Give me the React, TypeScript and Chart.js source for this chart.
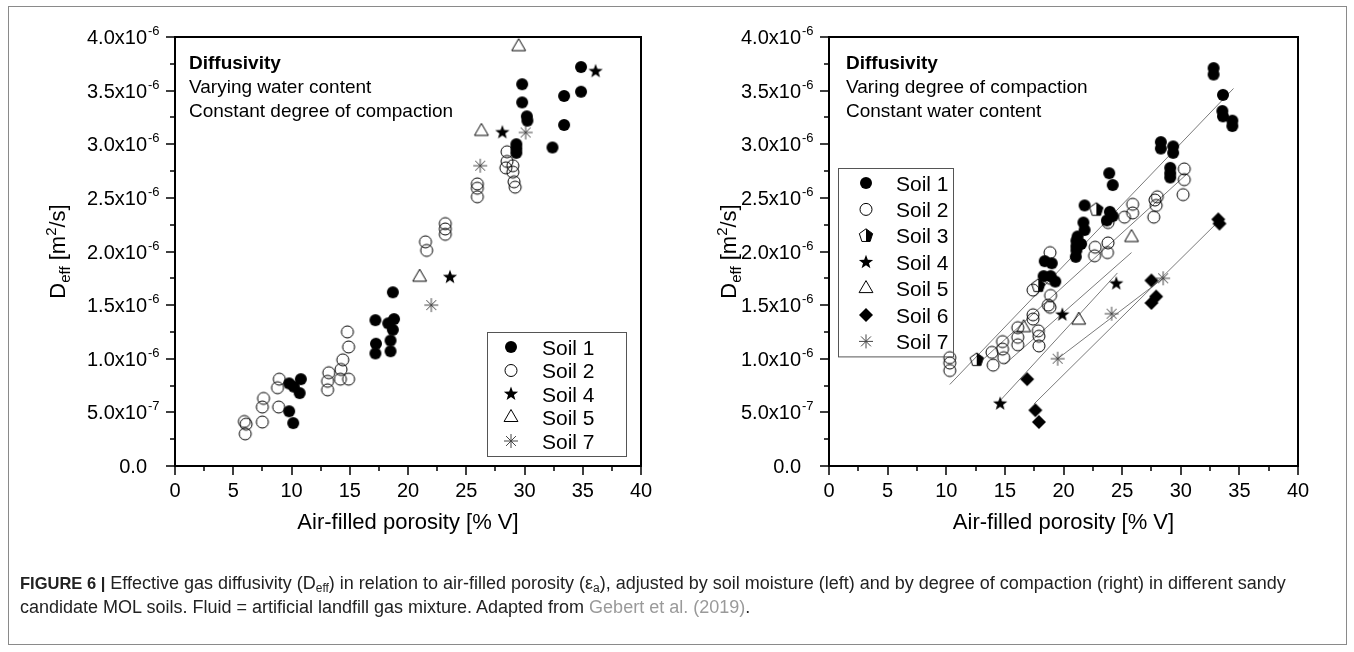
import React, { useEffect, useRef } from 'react';
import { Chart, registerables } from 'chart.js';

Chart.register(...registerables);

const FONT = "'Liberation Sans', Arial, Helvetica, sans-serif";

// ---------- axes (shared) ----------
const xTickValues = [0, 5, 10, 15, 20, 25, 30, 35, 40];
const xTickLabels = ['0', '5', '10', '15', '20', '25', '30', '35', '40'];
// y values are in units of 1e-6 m2/s
const yTickValues = [0, 0.5, 1.0, 1.5, 2.0, 2.5, 3.0, 3.5, 4.0];
const yTickMantissa = ['0.0', '5.0x10', '1.0x10', '1.5x10', '2.0x10', '2.5x10', '3.0x10', '3.5x10', '4.0x10'];
const yTickExponent = ['', '-7', '-6', '-6', '-6', '-6', '-6', '-6', '-6'];
const xAxisTitle = 'Air-filled porosity [% V]';

// ---------- left panel: varying water content ----------
const leftNotes = ['Diffusivity', 'Varying water content', 'Constant degree of compaction'];
const leftSoil1X = [9.8, 10.2, 10.8, 10.7, 9.8, 10.15, 17.2, 17.25, 17.2, 18.7, 18.3, 18.8, 18.7, 18.5, 18.5, 29.8, 29.8, 30.2, 30.25, 29.3, 29.3, 29.3, 32.4, 33.4, 33.4, 34.85, 34.85];
const leftSoil1Y = [0.77, 0.74, 0.81, 0.68, 0.51, 0.40, 1.36, 1.14, 1.05, 1.62, 1.33, 1.37, 1.27, 1.17, 1.07, 3.56, 3.39, 3.26, 3.22, 3.00, 2.96, 2.92, 2.97, 3.45, 3.18, 3.72, 3.49];
const leftSoil2X = [5.95, 6.1, 6.03, 7.5, 7.5, 7.6, 8.8, 8.95, 8.9, 13.1, 13.1, 13.2, 14.2, 14.25, 14.4, 14.9, 14.9, 14.8, 21.5, 21.6, 23.2, 23.2, 23.2, 25.95, 25.95, 25.95, 28.5, 28.5, 28.4, 29.0, 29.0, 29.1, 29.2];
const leftSoil2Y = [0.415, 0.39, 0.30, 0.41, 0.55, 0.63, 0.73, 0.81, 0.55, 0.71, 0.79, 0.87, 0.81, 0.90, 0.99, 0.81, 1.11, 1.25, 2.09, 2.01, 2.26, 2.21, 2.16, 2.63, 2.59, 2.51, 2.93, 2.84, 2.78, 2.80, 2.74, 2.65, 2.60];
const leftSoil4X = [23.6, 28.1, 36.1];
const leftSoil4Y = [1.76, 3.11, 3.68];
const leftSoil5X = [21.0, 26.3, 29.5];
const leftSoil5Y = [1.76, 3.12, 3.91];
const leftSoil7X = [22.0, 26.2, 30.1];
const leftSoil7Y = [1.50, 2.80, 3.11];

// ---------- right panel: varying degree of compaction ----------
const rightNotes = ['Diffusivity', 'Varing degree of compaction', 'Constant water content'];
const rightSoil1X = [28.3, 28.3, 29.35, 29.35, 29.1, 29.1, 29.1, 23.9, 24.2, 21.8, 23.95, 24.2, 23.7, 21.7, 21.8, 21.2, 21.1, 21.1, 21.1, 21.05, 21.5, 18.4, 19.0, 18.3, 18.9, 19.3, 32.8, 32.8, 33.6, 33.55, 33.6, 34.4, 34.4];
const rightSoil1Y = [3.02, 2.96, 2.98, 2.92, 2.78, 2.73, 2.69, 2.73, 2.62, 2.43, 2.37, 2.33, 2.29, 2.27, 2.20, 2.14, 2.10, 2.05, 2.01, 1.95, 2.07, 1.91, 1.89, 1.77, 1.77, 1.72, 3.71, 3.65, 3.46, 3.31, 3.26, 3.22, 3.17];
const rightSoil2X = [30.3, 30.3, 30.2, 28.0, 27.8, 27.9, 27.7, 25.9, 25.9, 25.2, 23.8, 23.8, 23.75, 22.7, 22.65, 18.85, 18.85, 17.4, 18.9, 18.7, 18.85, 17.4, 17.4, 17.85, 17.9, 17.9, 16.1, 16.1, 16.1, 13.9, 14.0, 14.8, 14.8, 14.9, 10.3, 10.3, 10.3];
const rightSoil2Y = [2.77, 2.67, 2.53, 2.51, 2.48, 2.43, 2.32, 2.44, 2.36, 2.32, 2.27, 2.08, 1.99, 2.04, 1.96, 1.99, 1.75, 1.64, 1.59, 1.50, 1.48, 1.41, 1.37, 1.26, 1.21, 1.12, 1.29, 1.20, 1.13, 1.06, 0.94, 1.16, 1.09, 1.01, 1.01, 0.96, 0.89];
const rightSoil3X = [12.6, 17.85, 22.8];
const rightSoil3Y = [0.99, 1.68, 2.39];
const rightSoil4X = [14.6, 19.9, 24.5];
const rightSoil4Y = [0.58, 1.41, 1.70];
const rightSoil5X = [16.6, 21.3, 25.8];
const rightSoil5Y = [1.29, 1.36, 2.13];
const rightSoil6X = [16.9, 17.6, 17.9, 27.5, 27.9, 27.5, 33.2, 33.3];
const rightSoil6Y = [0.81, 0.52, 0.41, 1.73, 1.58, 1.52, 2.30, 2.26];
const rightSoil7X = [19.5, 24.1, 28.5];
const rightSoil7Y = [1.00, 1.42, 1.75];
// fitted lines (end points)
const fitSoil1X = [10.3, 34.5];
const fitSoil1Y = [0.76, 3.52];
const fitSoil2X = [13.0, 30.5];
const fitSoil2Y = [0.98, 2.72];
const fitSoil5X = [15.0, 25.8];
const fitSoil5Y = [0.95, 1.99];
const fitSoil4X = [14.6, 24.6];
const fitSoil4Y = [0.61, 1.80];
const fitSoil7X = [19.5, 28.5];
const fitSoil7Y = [1.00, 1.75];
const fitSoil6X = [17.5, 33.4];
const fitSoil6Y = [0.58, 2.30];

type Kind = 'filled' | 'open' | 'pent' | 'star5' | 'tri' | 'diamond' | 'ast';

function drawMarker(ctx: CanvasRenderingContext2D, kind: Kind, x: number, y: number) {
  ctx.save();
  ctx.fillStyle = '#000';
  ctx.strokeStyle = '#000';
  ctx.lineWidth = 1;
  ctx.beginPath();
  if (kind === 'filled') {
    ctx.arc(x, y, 6, 0, Math.PI * 2);
    ctx.fill();
  } else if (kind === 'open') {
    ctx.arc(x, y, 6, 0, Math.PI * 2);
    ctx.stroke();
  } else if (kind === 'tri') {
    const r = 8;
    ctx.moveTo(x, y - r);
    ctx.lineTo(x + r * 0.866, y + r * 0.5);
    ctx.lineTo(x - r * 0.866, y + r * 0.5);
    ctx.closePath();
    ctx.stroke();
  } else if (kind === 'diamond') {
    const r = 7;
    ctx.moveTo(x, y - r);
    ctx.lineTo(x + r, y);
    ctx.lineTo(x, y + r);
    ctx.lineTo(x - r, y);
    ctx.closePath();
    ctx.fill();
  } else if (kind === 'star5') {
    const ro = 7.5, ri = 3.1;
    for (let i = 0; i < 10; i++) {
      const r = i % 2 === 0 ? ro : ri;
      const a = -Math.PI / 2 + (i * Math.PI) / 5;
      const px = x + r * Math.cos(a), py = y + r * Math.sin(a);
      if (i === 0) ctx.moveTo(px, py); else ctx.lineTo(px, py);
    }
    ctx.closePath();
    ctx.fill();
  } else if (kind === 'pent') {
    const r = 7;
    const pts: [number, number][] = [];
    for (let i = 0; i < 5; i++) {
      const a = -Math.PI / 2 + (i * 2 * Math.PI) / 5;
      pts.push([x + r * Math.cos(a), y + r * Math.sin(a)]);
    }
    ctx.moveTo(x, pts[0][1]);
    ctx.lineTo(pts[1][0], pts[1][1]);
    ctx.lineTo(pts[2][0], pts[2][1]);
    ctx.lineTo(x, pts[2][1]);
    ctx.closePath();
    ctx.fill();
    ctx.beginPath();
    pts.forEach((p, i) => (i === 0 ? ctx.moveTo(p[0], p[1]) : ctx.lineTo(p[0], p[1])));
    ctx.closePath();
    ctx.stroke();
  } else if (kind === 'ast') {
    ctx.strokeStyle = '#444';
    const r = 7;
    for (let i = 0; i < 4; i++) {
      const a = (i * Math.PI) / 4;
      ctx.moveTo(x - r * Math.cos(a), y - r * Math.sin(a));
      ctx.lineTo(x + r * Math.cos(a), y + r * Math.sin(a));
    }
    ctx.stroke();
  }
  ctx.restore();
}

function markerImage(kind: Kind): HTMLCanvasElement {
  const c = document.createElement('canvas');
  c.width = 20;
  c.height = 20;
  const ctx = c.getContext('2d')!;
  drawMarker(ctx, kind, 10, 10);
  return c;
}

type Part = { t: string; size: number; dy: number; bold?: boolean };

function drawParts(ctx: CanvasRenderingContext2D, parts: Part[], x: number, y: number, align: 'left' | 'center' | 'right') {
  const widths = parts.map((p) => {
    ctx.font = `${p.bold ? 'bold ' : ''}${p.size}px ${FONT}`;
    return ctx.measureText(p.t).width;
  });
  const total = widths.reduce((s, w) => s + w, 0);
  let cx = align === 'center' ? x - total / 2 : align === 'right' ? x - total : x;
  ctx.textAlign = 'left';
  ctx.textBaseline = 'alphabetic';
  parts.forEach((p, i) => {
    ctx.font = `${p.bold ? 'bold ' : ''}${p.size}px ${FONT}`;
    ctx.fillText(p.t, cx, y + p.dy);
    cx += widths[i];
  });
}

type SeriesCfg = { label: string; kind: Kind; xs: number[]; ys: number[] };
type FitCfg = { xs: number[]; ys: number[] };
type LegendCfg = { anchor: 'bottomRight' | 'topLeft'; dx: number; dy: number; w: number; step: number; markerX: number; textX: number };
type PanelCfg = {
  id: string;
  notes: string[];
  series: SeriesCfg[];
  fits: FitCfg[];
  legend: LegendCfg;
  yTitleOffset: number;
  padding: { left: number; right: number; top: number; bottom: number };
};

function decorPlugin(cfg: PanelCfg) {
  return {
    id: 'decor_' + cfg.id,
    afterDraw(chart: any) {
      const ctx: CanvasRenderingContext2D = chart.ctx;
      const a = chart.chartArea;
      const xs = chart.scales.x;
      const ys = chart.scales.y;
      ctx.save();
      ctx.fillStyle = '#000';
      ctx.strokeStyle = '#000';
      // frame
      ctx.lineWidth = 2;
      ctx.strokeRect(a.left, a.top, a.right - a.left, a.bottom - a.top);
      // ticks
      ctx.lineWidth = 1.5;
      ctx.beginPath();
      xTickValues.forEach((v, i) => {
        const px = Math.round(xs.getPixelForValue(v));
        ctx.moveTo(px, a.bottom);
        ctx.lineTo(px, a.bottom + 9);
        if (i < xTickValues.length - 1) {
          const pm = Math.round(xs.getPixelForValue((v + xTickValues[i + 1]) / 2));
          ctx.moveTo(pm, a.bottom);
          ctx.lineTo(pm, a.bottom + 5);
        }
      });
      yTickValues.forEach((v, i) => {
        const py = Math.round(ys.getPixelForValue(v));
        ctx.moveTo(a.left, py);
        ctx.lineTo(a.left - 9, py);
        if (i < yTickValues.length - 1) {
          const pm = Math.round(ys.getPixelForValue((v + yTickValues[i + 1]) / 2));
          ctx.moveTo(a.left, pm);
          ctx.lineTo(a.left - 5, pm);
        }
      });
      ctx.stroke();
      // x tick labels
      ctx.font = `20px ${FONT}`;
      ctx.textAlign = 'center';
      ctx.textBaseline = 'alphabetic';
      xTickValues.forEach((v, i) => {
        ctx.fillText(xTickLabels[i], xs.getPixelForValue(v), a.bottom + 31);
      });
      // y tick labels
      yTickValues.forEach((v, i) => {
        const py = ys.getPixelForValue(v);
        const xr = a.left - 28;
        ctx.font = `20px ${FONT}`;
        ctx.textAlign = 'right';
        ctx.fillText(yTickMantissa[i], xr, py + 7);
        if (yTickExponent[i]) {
          ctx.font = `13px ${FONT}`;
          ctx.textAlign = 'left';
          ctx.fillText(yTickExponent[i], xr + 1, py - 2);
        }
      });
      // axis titles
      ctx.font = `22px ${FONT}`;
      ctx.textAlign = 'center';
      ctx.fillText(xAxisTitle, (a.left + a.right) / 2, a.bottom + 63);
      ctx.save();
      ctx.translate(a.left - cfg.yTitleOffset, (a.top + a.bottom) / 2);
      ctx.rotate(-Math.PI / 2);
      drawParts(
        ctx,
        [
          { t: 'D', size: 22, dy: 0 },
          { t: 'eff', size: 15, dy: 5 },
          { t: ' [m', size: 22, dy: 0 },
          { t: '2', size: 15, dy: -9 },
          { t: '/s]', size: 22, dy: 0 },
        ],
        0,
        8,
        'center'
      );
      ctx.restore();
      // notes
      const nx = a.left + (cfg.id === 'left' ? 14 : 17);
      cfg.notes.forEach((t, i) => {
        ctx.font = `${i === 0 ? 'bold ' : ''}19px ${FONT}`;
        ctx.textAlign = 'left';
        ctx.fillText(t, nx, a.top + 32 + i * 24);
      });
      // legend
      const L = cfg.legend;
      const n = cfg.series.length;
      const boxH = 30 + (n - 1) * L.step;
      let bx: number, by: number;
      if (L.anchor === 'bottomRight') {
        bx = a.right - L.dx - L.w;
        by = a.bottom - L.dy - boxH;
      } else {
        bx = a.left + L.dx;
        by = a.top + L.dy;
      }
      ctx.strokeStyle = '#555';
      ctx.lineWidth = 1;
      ctx.strokeRect(Math.round(bx) + 0.5, Math.round(by) + 0.5, L.w, boxH);
      cfg.series.forEach((s, i) => {
        const cy = by + 15 + i * L.step;
        drawMarker(ctx, s.kind, bx + L.markerX, cy);
        ctx.fillStyle = '#000';
        ctx.font = `21px ${FONT}`;
        ctx.textAlign = 'left';
        ctx.fillText(s.label, bx + L.textX, cy + 7.5);
      });
      ctx.restore();
    },
  };
}

const leftCfg: PanelCfg = {
  id: 'left',
  notes: leftNotes,
  series: [
    { label: 'Soil 1', kind: 'filled', xs: leftSoil1X, ys: leftSoil1Y },
    { label: 'Soil 2', kind: 'open', xs: leftSoil2X, ys: leftSoil2Y },
    { label: 'Soil 4', kind: 'star5', xs: leftSoil4X, ys: leftSoil4Y },
    { label: 'Soil 5', kind: 'tri', xs: leftSoil5X, ys: leftSoil5Y },
    { label: 'Soil 7', kind: 'ast', xs: leftSoil7X, ys: leftSoil7Y },
  ],
  fits: [],
  legend: { anchor: 'bottomRight', dx: 15, dy: 10, w: 139, step: 23.5, markerX: 24, textX: 55 },
  yTitleOffset: 118,
  padding: { left: 175, right: 36, top: 37, bottom: 652 - 466 },
};

const rightCfg: PanelCfg = {
  id: 'right',
  notes: rightNotes,
  series: [
    { label: 'Soil 1', kind: 'filled', xs: rightSoil1X, ys: rightSoil1Y },
    { label: 'Soil 2', kind: 'open', xs: rightSoil2X, ys: rightSoil2Y },
    { label: 'Soil 3', kind: 'pent', xs: rightSoil3X, ys: rightSoil3Y },
    { label: 'Soil 4', kind: 'star5', xs: rightSoil4X, ys: rightSoil4Y },
    { label: 'Soil 5', kind: 'tri', xs: rightSoil5X, ys: rightSoil5Y },
    { label: 'Soil 6', kind: 'diamond', xs: rightSoil6X, ys: rightSoil6Y },
    { label: 'Soil 7', kind: 'ast', xs: rightSoil7X, ys: rightSoil7Y },
  ],
  fits: [
    { xs: fitSoil1X, ys: fitSoil1Y },
    { xs: fitSoil2X, ys: fitSoil2Y },
    { xs: fitSoil5X, ys: fitSoil5Y },
    { xs: fitSoil4X, ys: fitSoil4Y },
    { xs: fitSoil7X, ys: fitSoil7Y },
    { xs: fitSoil6X, ys: fitSoil6Y },
  ],
  legend: { anchor: 'topLeft', dx: 9, dy: 131, w: 115, step: 26.4, markerX: 28, textX: 58 },
  yTitleOffset: 101,
  padding: { left: 152, right: 56, top: 37, bottom: 652 - 466 },
};

function Panel({ cfg, left }: { cfg: PanelCfg; left: number }) {
  const ref = useRef<HTMLCanvasElement>(null);
  useEffect(() => {
    const canvas = ref.current!;
    const pointSets = cfg.series.map((s) => ({
      type: 'scatter' as const,
      label: s.label,
      data: s.xs.map((x, i) => ({ x, y: s.ys[i] })),
      pointStyle: markerImage(s.kind),
      pointRadius: 7,
      showLine: false,
    }));
    const lineSets = cfg.fits.map((f, k) => ({
      type: 'scatter' as const,
      label: 'fit' + k,
      data: f.xs.map((x, i) => ({ x, y: f.ys[i] })),
      showLine: true,
      pointRadius: 0,
      borderColor: '#7a7a7a',
      borderWidth: 1,
    }));
    const chart = new Chart(canvas, {
      type: 'scatter',
      data: { datasets: [...pointSets, ...lineSets] as any },
      options: {
        responsive: false,
        animation: false,
        devicePixelRatio: 1,
        layout: { padding: cfg.padding },
        plugins: { legend: { display: false }, tooltip: { enabled: false } },
        scales: {
          x: { type: 'linear', min: 0, max: 40, display: false },
          y: { type: 'linear', min: 0, max: 4, display: false },
        },
      },
      plugins: [decorPlugin(cfg)],
    });
    return () => chart.destroy();
  }, []);
  return (
    <canvas
      ref={ref}
      width={677}
      height={652}
      style={{ position: 'absolute', left, top: 0, width: 677, height: 652 }}
    />
  );
}

export default function App() {
  return (
    <div
      style={{
        position: 'fixed',
        left: 0,
        top: 0,
        width: 1354,
        height: 652,
        background: '#fff',
        overflow: 'hidden',
        fontFamily: FONT,
      }}
    >
      <div
        style={{
          position: 'absolute',
          left: 8,
          top: 6,
          width: 1337,
          height: 637,
          border: '1px solid #8a8a8a',
        }}
      />
      <Panel cfg={leftCfg} left={0} />
      <Panel cfg={rightCfg} left={677} />
      <div
        style={{
          position: 'absolute',
          left: 20,
          top: 571,
          fontSize: 18,
          lineHeight: '24px',
          color: '#222',
          whiteSpace: 'nowrap',
        }}
      >
        <b style={{ fontSize: 16.5 }}>FIGURE 6 |</b> Effective gas diffusivity (D
        <sub style={{ fontSize: 12, lineHeight: 0, verticalAlign: -3 }}>eff</sub>) in relation to air-filled porosity (ε
        <sub style={{ fontSize: 12, lineHeight: 0, verticalAlign: -3 }}>a</sub>), adjusted by soil moisture (left) and by degree of
        compaction (right) in different sandy
        <br />
        candidate MOL soils. Fluid = artificial landfill gas mixture. Adapted from{' '}
        <span style={{ color: '#9a9a9a' }}>Gebert et al. (2019)</span>.
      </div>
    </div>
  );
}
